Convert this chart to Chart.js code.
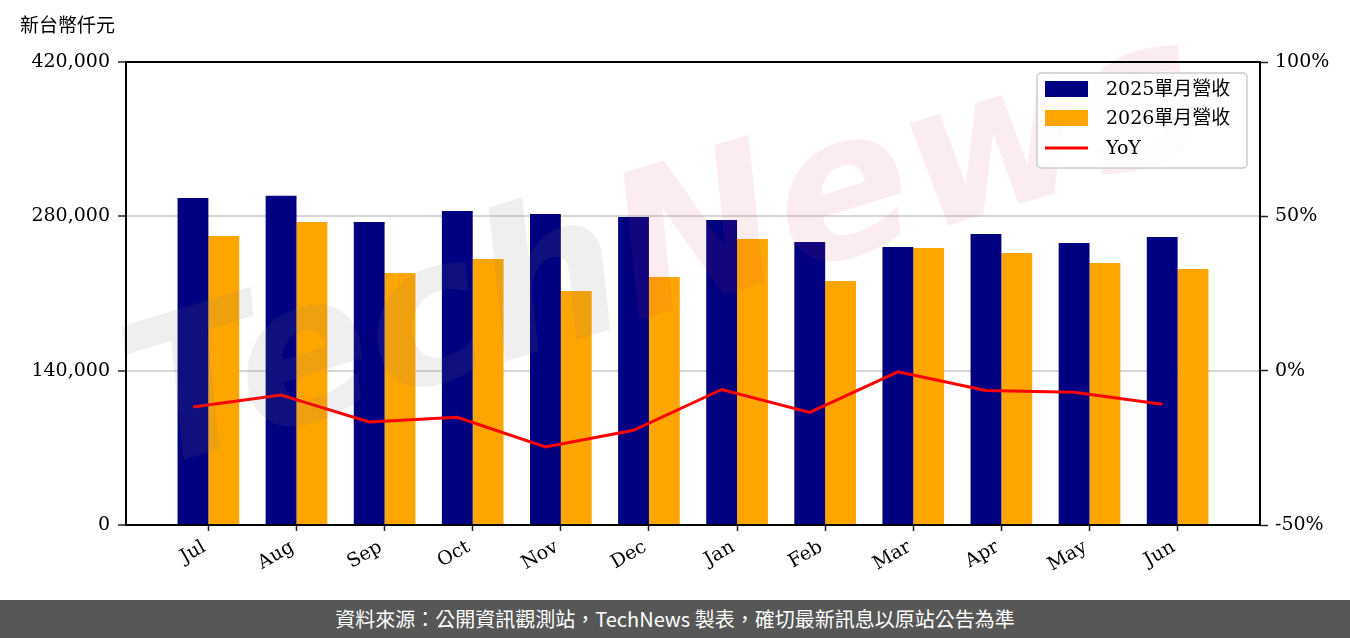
<!DOCTYPE html>
<html>
<head>
<meta charset="utf-8">
<script src="https://cdn.jsdelivr.net/npm/chart.js@4.4.1/dist/chart.umd.min.js"></script>
<style>
  html, body { margin: 0; padding: 0; background: #fff; }
  #wrap { width: 1350px; height: 638px; position: relative; overflow: hidden; }
  #footer {
    position: absolute; left: 0; top: 600px; width: 1350px; height: 38px;
    background: #575757; color: #fff; text-align: center;
    font-family: "Noto Sans CJK TC", sans-serif; font-size: 20px; line-height: 38px;
  }
</style>
</head>
<body>
<div id="wrap">
  <canvas id="revenueChart" width="1350" height="600"></canvas>
  <div id="footer">資料來源：公開資訊觀測站，TechNews 製表，確切最新訊息以原站公告為準</div>
</div>
<script>
var months = ['Jul', 'Aug', 'Sep', 'Oct', 'Nov', 'Dec', 'Jan', 'Feb', 'Mar', 'Apr', 'May', 'Jun'];
var revenue2025 = [296600, 298700, 274900, 284800, 282100, 279400, 276700, 256700, 252200, 264000, 255800, 261200];
var revenue2026 = [262200, 274900, 228600, 241300, 212300, 225000, 259400, 221300, 251300, 246700, 237700, 232200];
var yoyPercent = [-11.8, -7.9, -16.6, -15.1, -24.7, -19.3, -6.1, -13.5, -0.4, -6.4, -7.0, -10.9];
var leftTicks = [0, 140000, 280000, 420000];
var rightTicks = [-50, 0, 50, 100];
var seriesNames = ['2025單月營收', '2026單月營收', 'YoY'];
var unitLabel = '新台幣仟元';

var barWidth = 0.35;
var serif = '"DejaVu Serif", "Noto Sans CJK TC", serif';

// watermark, frame, unit label and legend drawn on the canvas
const extras = {
    id: 'extras',
    afterDatasetsDraw(chart) {
        const ctx = chart.ctx;
        const a = chart.chartArea;
        ctx.save();
        ctx.translate(150, 470);
        ctx.rotate(-17 * Math.PI / 180);
        ctx.font = 'bold oblique 200px "DejaVu Sans"';
        ctx.textBaseline = 'alphabetic';
        ctx.fillStyle = 'rgba(120,120,120,0.12)';
        ctx.fillText('Tech', 0, 0);
        const w = ctx.measureText('Tech').width;
        ctx.fillStyle = 'rgba(210,60,80,0.09)';
        ctx.fillText('News', w, 0);
        ctx.restore();

        ctx.save();
        ctx.strokeStyle = '#000';
        ctx.lineWidth = 2;
        ctx.strokeRect(a.left, a.top, a.right - a.left, a.bottom - a.top);
        ctx.restore();
    },
    afterDraw(chart) {
        const ctx = chart.ctx;
        const a = chart.chartArea;
        ctx.save();
        ctx.fillStyle = '#000';
        ctx.font = '19px ' + serif;
        ctx.textBaseline = 'middle';
        ctx.fillText(unitLabel, 20, 27);

        const x = a.right - 223, y = a.top + 11;
        ctx.beginPath();
        ctx.roundRect(x, y, 210, 95, 4);
        ctx.fillStyle = 'rgba(255,255,255,0.85)';
        ctx.fill();
        ctx.strokeStyle = '#cccccc';
        ctx.lineWidth = 1.5;
        ctx.stroke();

        const rows = [y + 16, y + 45, y + 75];
        const ds = chart.data.datasets;
        ctx.fillStyle = ds[1].backgroundColor;
        ctx.fillRect(x + 8, rows[0] - 8, 43, 16);
        ctx.fillStyle = ds[2].backgroundColor;
        ctx.fillRect(x + 8, rows[1] - 8, 43, 16);
        ctx.strokeStyle = ds[0].borderColor;
        ctx.lineWidth = 3;
        ctx.beginPath();
        ctx.moveTo(x + 8, rows[2]);
        ctx.lineTo(x + 51, rows[2]);
        ctx.stroke();

        ctx.fillStyle = '#000';
        ctx.font = '19px ' + serif;
        for (let i = 0; i < 3; i++) {
            ctx.fillText(seriesNames[i], x + 69, rows[i] + 1);
        }
        ctx.restore();
    }
};

const graph = document.querySelector('#revenueChart');
new Chart(graph, {
    type: 'bar',
    data: {
        datasets: [
            {
                type: 'line',
                label: seriesNames[2],
                data: yoyPercent.map((v, i) => ({ x: i - barWidth / 2, y: v })),
                borderColor: '#ff0000',
                borderWidth: 3,
                pointRadius: 0,
                tension: 0,
                yAxisID: 'y1',
                order: 0
            },
            {
                label: seriesNames[0],
                data: revenue2025.map((v, i) => ({ x: i, y: v })),
                backgroundColor: '#000080',
                categoryPercentage: 0.7,
                barPercentage: 1.0,
                yAxisID: 'y',
                order: 1
            },
            {
                label: seriesNames[1],
                data: revenue2026.map((v, i) => ({ x: i, y: v })),
                backgroundColor: '#ffa500',
                categoryPercentage: 0.7,
                barPercentage: 1.0,
                yAxisID: 'y',
                order: 1
            }
        ]
    },
    options: {
        responsive: false,
        animation: false,
        devicePixelRatio: 1,
        layout: { padding: { top: 62, left: 0, right: 0, bottom: 0 } },
        scales: {
            x: {
                type: 'linear',
                offset: false,
                min: -0.935,
                max: 11.935,
                afterBuildTicks: s => { s.ticks = months.map((m, i) => ({ value: i })); },
                afterFit: s => { s.height = 75; },
                border: { display: false },
                grid: { offset: false, drawOnChartArea: false, tickLength: 6, tickColor: '#222', tickWidth: 1.5 },
                ticks: {
                    autoSkip: false,
                    minRotation: 30,
                    maxRotation: 30,
                    padding: 5,
                    labelOffset: -4,
                    color: '#000',
                    font: { family: serif, size: 19 },
                    callback: v => months[v]
                }
            },
            y: {
                position: 'left',
                min: 0,
                max: 420000,
                afterBuildTicks: s => { s.ticks = leftTicks.map(v => ({ value: v })); },
                afterFit: s => { s.width = 126; },
                border: { display: false },
                grid: {
                    color: c => (c.tick.value === 0 || c.tick.value === 420000) ? 'rgba(0,0,0,0)' : '#d6d6d6',
                    lineWidth: 2,
                    tickLength: 8,
                    tickColor: '#222',
                    tickWidth: 1.5
                },
                ticks: {
                    padding: 8,
                    color: '#000',
                    font: { family: serif, size: 19 },
                    callback: v => v.toLocaleString('en-US')
                }
            },
            y1: {
                position: 'right',
                min: -50,
                max: 100,
                afterBuildTicks: s => { s.ticks = rightTicks.map(v => ({ value: v })); },
                afterFit: s => { s.width = 90; },
                border: { display: false },
                grid: { drawOnChartArea: false, tickLength: 8, tickColor: '#222', tickWidth: 1.5 },
                ticks: {
                    padding: 7,
                    color: '#000',
                    font: { family: serif, size: 19 },
                    callback: v => v + '%'
                }
            }
        },
        plugins: {
            legend: { display: false },
            tooltip: { enabled: false }
        }
    },
    plugins: [extras]
});
</script>
</body>
</html>
